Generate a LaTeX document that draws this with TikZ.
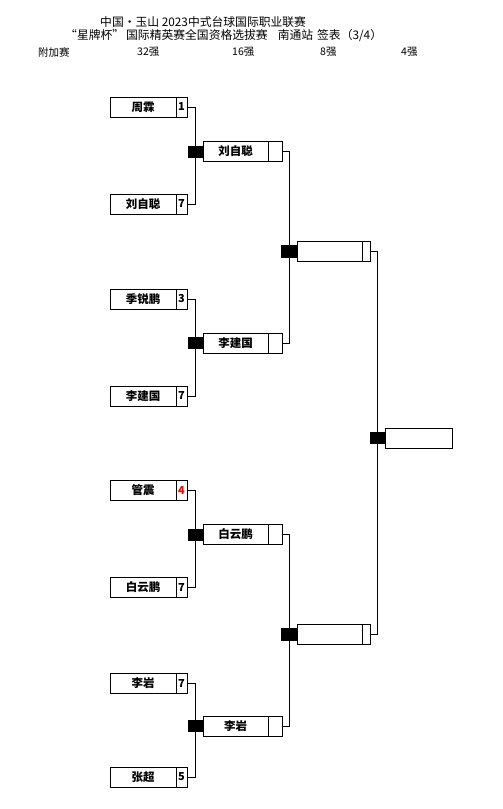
\documentclass[tikz,border=0pt]{standalone}
\usepackage{fontspec}
\newfontfamily\cjk{Noto Sans CJK SC}
\usetikzlibrary{positioning}
\definecolor{losered}{HTML}{FF0000}
\tikzset{
  namebox/.style={draw=black,line width=0.9pt,minimum width=66pt,minimum height=20pt,
    inner sep=0pt,outer sep=0pt,font=\cjk\bfseries\fontsize{11.5}{12}\selectfont},
  scorebox/.style={draw=black,line width=0.9pt,minimum width=11pt,minimum height=20pt,
    inner sep=0pt,outer sep=0pt,font=\cjk\bfseries\fontsize{11}{12}\selectfont},
  seedmark/.style={fill=black,minimum width=15pt,minimum height=12pt,inner sep=0pt,outer sep=0pt},
  bracket/.style={line width=0.9pt,draw=black},
  headtext/.style={anchor=west,inner sep=0pt,font=\cjk\fontsize{11.8}{12}\selectfont},
  roundtext/.style={anchor=west,inner sep=0pt,font=\cjk\fontsize{10.5}{12}\selectfont}
}
\begin{document}
\begin{tikzpicture}[x=1pt,y=-1pt]
\path[use as bounding box,fill=white] (0,0) rectangle (503,809);
% title
\node[headtext] (title1) at (100,22) {中国·玉山 2023中式台球国际职业联赛};
\node[headtext] (title2) at (65,36) {“星牌杯”\,国际精英赛全国资格选拔赛\hspace{10pt}南通站\hspace{4pt}签表（3/4）};
\node[roundtext] (rd0) at (38,52) {附加赛};
\node[roundtext] (rd1) at (137,52) {32强};
\node[roundtext] (rd2) at (232,52) {16强};
\node[roundtext] (rd3) at (320,52) {8强};
\node[roundtext] (rd4) at (401,52) {4强};
% 32 players
\node[namebox] (p1) at (143,107) {周霖};
\node[scorebox,right=0pt of p1] (p1s) {1};
\node[namebox] (p2) at (143,204) {刘自聪};
\node[scorebox,right=0pt of p2] (p2s) {7};
\node[namebox] (p3) at (143,299) {季锐鹏};
\node[scorebox,right=0pt of p3] (p3s) {3};
\node[namebox] (p4) at (143,396) {李建国};
\node[scorebox,right=0pt of p4] (p4s) {7};
\node[namebox] (p5) at (143,490) {管震};
\node[scorebox,right=0pt of p5,text=losered] (p5s) {4};
\node[namebox] (p6) at (143,587) {白云鹏};
\node[scorebox,right=0pt of p6] (p6s) {7};
\node[namebox] (p7) at (143,683) {李岩};
\node[scorebox,right=0pt of p7] (p7s) {7};
\node[namebox] (p8) at (143,777) {张超};
\node[scorebox,right=0pt of p8] (p8s) {5};
% 16
\node[seedmark] (m1) at (195.5,151.5) {};
\node[seedmark] (m2) at (195.5,343) {};
\node[seedmark] (m3) at (195.5,534.5) {};
\node[seedmark] (m4) at (195.5,726) {};
\draw[bracket] (p1s.east) -| (m1.north);
\draw[bracket] (p2s.east) -| (m1.south);
\draw[bracket] (p3s.east) -| (m2.north);
\draw[bracket] (p4s.east) -| (m2.south);
\draw[bracket] (p5s.east) -| (m3.north);
\draw[bracket] (p6s.east) -| (m3.south);
\draw[bracket] (p7s.east) -| (m4.north);
\draw[bracket] (p8s.east) -| (m4.south);
\node[namebox,minimum width=65pt,right=0pt of m1] (q1) {刘自聪};
\node[scorebox,minimum width=14pt,right=0pt of q1] (q1s) {};
\node[namebox,minimum width=65pt,right=0pt of m2] (q2) {李建国};
\node[scorebox,minimum width=14pt,right=0pt of q2] (q2s) {};
\node[namebox,minimum width=65pt,right=0pt of m3] (q3) {白云鹏};
\node[scorebox,minimum width=14pt,right=0pt of q3] (q3s) {};
\node[namebox,minimum width=65pt,right=0pt of m4] (q4) {李岩};
\node[scorebox,minimum width=14pt,right=0pt of q4] (q4s) {};
% 8
\node[seedmark,minimum width=16pt,minimum height=13pt] (n1) at (289,251.5) {};
\node[seedmark,minimum width=16pt,minimum height=13pt] (n2) at (289,634) {};
\draw[bracket] (q1s.east) -| (n1.north);
\draw[bracket] (q2s.east) -| (n1.south);
\draw[bracket] (q3s.east) -| (n2.north);
\draw[bracket] (q4s.east) -| (n2.south);
\node[namebox,minimum width=65pt,right=0pt of n1] (r1) {};
\node[scorebox,minimum width=8pt,right=0pt of r1] (r1s) {};
\node[namebox,minimum width=65pt,right=0pt of n2] (r2) {};
\node[scorebox,minimum width=8pt,right=0pt of r2] (r2s) {};
% 4
\node[seedmark] (t1) at (377.5,438) {};
\draw[bracket] (r1s.east) -| (t1.north);
\draw[bracket] (r2s.east) -| (t1.south);
\node[namebox,minimum width=67pt,right=0pt of t1] (w1) {};
\end{tikzpicture}
\end{document}
